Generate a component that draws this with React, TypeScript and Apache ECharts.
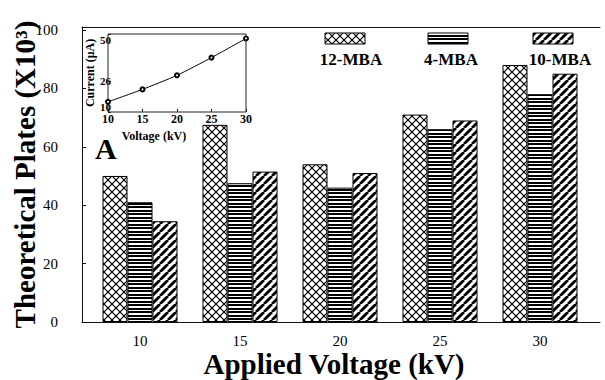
import React, { useEffect, useRef } from 'react';
import * as echarts from 'echarts';

const voltages = [10, 15, 20, 25, 30];
const seriesNames = ['12-MBA', '4-MBA', '10-MBA'];
const plates12MBA = [50, 67.5, 54, 71, 88];
const plates4MBA = [41, 47.5, 46, 66, 78];
const plates10MBA = [34.5, 51.5, 51, 69, 85];
const yTicks = [0, 20, 40, 60, 80, 100];

const insetVoltage = [10, 15, 20, 25, 30];
const insetCurrent = [15.2, 21.6, 28.8, 37.9, 47.7];
const insetYTicks = [10, 26, 50];

const SERIF = '"Liberation Serif", "Times New Roman", serif';

function makeTile(w: number, h: number, draw: (ctx: CanvasRenderingContext2D) => void) {
  const c = document.createElement('canvas');
  c.width = w;
  c.height = h;
  const ctx = c.getContext('2d')!;
  ctx.fillStyle = '#fff';
  ctx.fillRect(0, 0, w, h);
  ctx.strokeStyle = '#000';
  ctx.fillStyle = '#000';
  draw(ctx);
  return { image: c, repeat: 'repeat', imageWidth: w, imageHeight: h } as any;
}

function crossPattern() {
  return makeTile(8, 8, (ctx) => {
    ctx.lineWidth = 1.2;
    for (const k of [-8, 0, 8]) {
      ctx.beginPath();
      ctx.moveTo(k, 0);
      ctx.lineTo(k + 8, 8);
      ctx.stroke();
      ctx.beginPath();
      ctx.moveTo(k, 8);
      ctx.lineTo(k + 8, 0);
      ctx.stroke();
    }
  });
}

function horizPattern() {
  return makeTile(4, 7, (ctx) => {
    ctx.fillRect(0, 0, 4, 2);
    ctx.fillRect(0, 3, 4, 2);
  });
}

function diagPattern() {
  return makeTile(8, 8, (ctx) => {
    ctx.lineWidth = 2.8;
    for (const k of [-8, 0, 8]) {
      ctx.beginPath();
      ctx.moveTo(k, 8);
      ctx.lineTo(k + 8, 0);
      ctx.stroke();
    }
  });
}

export default function App() {
  const ref = useRef<HTMLDivElement>(null);

  useEffect(() => {
    if (!ref.current) return;
    const chart = echarts.init(ref.current, undefined, { renderer: 'svg' });
    const patterns = [crossPattern(), horizPattern(), diagPattern()];
    const seriesData = [plates12MBA, plates4MBA, plates10MBA];
    const legendX = [345, 448, 553];
    const textX = [351, 451, 560];

    const barSeries = seriesNames.map((name, si) => ({
      type: 'bar',
      name,
      xAxisIndex: 0,
      yAxisIndex: 0,
      barWidth: 25,
      barGap: '0%',
      data: voltages.map((v, i) => [v, seriesData[si][i]]),
      itemStyle: { color: patterns[si], borderColor: '#000', borderWidth: 1 },
    }));

    const legendGraphics: any[] = [];
    seriesNames.forEach((name, si) => {
      legendGraphics.push({
        type: 'rect',
        shape: { x: legendX[si] - 20, y: 33, width: 40, height: 11 },
        style: { fill: patterns[si], stroke: '#000', lineWidth: 1 },
      });
      legendGraphics.push({
        type: 'text',
        x: textX[si],
        y: 59,
        style: {
          text: name,
          align: 'center',
          verticalAlign: 'middle',
          fontSize: 17,
          fontWeight: 'bold',
          fontFamily: SERIF,
          fill: '#000',
        },
      });
    });

    const option: any = {
      animation: false,
      backgroundColor: '#fff',
      grid: [
        { left: 82, right: 5, top: 27, bottom: 58, outerBoundsMode: 'none', containLabel: false },
        {
          left: 108,
          top: 34,
          width: 138,
          height: 78,
          show: true,
          borderColor: '#222',
          borderWidth: 1,
          z: 5,
          outerBoundsMode: 'none',
          containLabel: false,
        },
      ],
      xAxis: [
        {
          type: 'value',
          gridIndex: 0,
          min: 7.1,
          max: 33,
          position: 'bottom',
          axisLine: { show: true, onZero: false, lineStyle: { color: '#111', width: 1 } },
          axisTick: { show: false },
          splitLine: { show: false },
          axisLabel: { customValues: voltages, fontSize: 15, color: '#000', fontFamily: SERIF, margin: 11 },
          name: 'Applied Voltage (kV)',
          nameLocation: 'middle',
          nameGap: 27,
          nameMoveOverlap: false,
          nameTextStyle: {
            fontSize: 29,
            lineHeight: 29,
            fontWeight: 'bold',
            fontFamily: SERIF,
            color: '#000',
            padding: [0, 14, 0, 0],
          },
        },
        {
          type: 'value',
          gridIndex: 0,
          min: 7.1,
          max: 33,
          position: 'top',
          axisLine: { show: true, onZero: false, lineStyle: { color: '#111', width: 1 } },
          axisTick: { show: false },
          axisLabel: { show: false },
          splitLine: { show: false },
        },
        {
          type: 'value',
          gridIndex: 1,
          min: 10,
          max: 30,
          interval: 5,
          axisLine: { show: false },
          axisTick: { show: true, inside: true, length: 3, lineStyle: { color: '#222' } },
          splitLine: { show: false },
          axisLabel: { fontSize: 12, fontWeight: 'bold', color: '#000', fontFamily: SERIF, margin: 1 },
          name: 'Voltage (kV)',
          nameLocation: 'middle',
          nameGap: 18,
          nameMoveOverlap: false,
          nameTextStyle: { fontSize: 12, fontWeight: 'bold', fontFamily: SERIF, color: '#000', padding: [0, 46, 0, 0] },
        },
      ],
      yAxis: [
        {
          type: 'value',
          gridIndex: 0,
          min: 0,
          max: 101,
          axisLine: { show: true, lineStyle: { color: '#111', width: 1 } },
          axisTick: { show: true, inside: true, length: 4, customValues: yTicks, lineStyle: { color: '#111' } },
          axisLabel: { customValues: yTicks, fontSize: 15, color: '#000', fontFamily: SERIF, margin: 24 },
          splitLine: { show: false },
          name: 'Theoretical Plates (X10³)',
          nameLocation: 'middle',
          nameGap: 43,
          nameMoveOverlap: false,
          nameTextStyle: { fontSize: 29, fontWeight: 'bold', fontFamily: SERIF, color: '#000' },
        },
        {
          type: 'value',
          gridIndex: 1,
          min: 10,
          max: 50,
          axisLine: { show: false },
          axisTick: { show: true, inside: true, length: 3, customValues: insetYTicks, lineStyle: { color: '#222' } },
          axisLabel: {
            customValues: insetYTicks,
            fontSize: 11,
            fontWeight: 'bold',
            color: '#000',
            fontFamily: SERIF,
            margin: -3,
            verticalAlignMinLabel: 'bottom',
            verticalAlignMaxLabel: 'top',
          },
          splitLine: { show: false },
          name: 'Current (μA)',
          nameLocation: 'middle',
          nameGap: 12,
          nameMoveOverlap: false,
          nameTextStyle: { fontSize: 12, fontWeight: 'bold', fontFamily: SERIF, color: '#000' },
        },
      ],
      series: [
        ...barSeries,
        {
          type: 'line',
          name: 'Current',
          xAxisIndex: 2,
          yAxisIndex: 1,
          data: insetVoltage.map((v, i) => [v, insetCurrent[i]]),
          symbol: 'emptyCircle',
          symbolSize: 4,
          smooth: 0.2,
          lineStyle: { color: '#000', width: 1 },
          itemStyle: { color: '#000', borderColor: '#000', borderWidth: 1 },
          z: 6,
        },
      ],
      graphic: [
        ...legendGraphics,
        {
          type: 'text',
          x: 95,
          y: 133,
          style: { text: 'A', fontSize: 30, fontWeight: 'bold', fontFamily: SERIF, fill: '#000' },
        },
      ],
    };

    chart.setOption(option);
    return () => chart.dispose();
  }, []);

  return (
    <div
      ref={ref}
      style={{ position: 'fixed', left: 0, top: 0, width: 605, height: 380, background: '#fff' }}
    />
  );
}
